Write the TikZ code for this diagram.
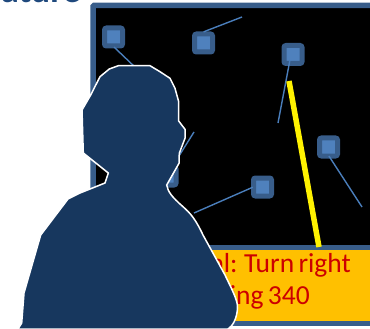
\documentclass[tikz,border=0pt]{standalone}
\usepackage{fontspec}
\setmainfont{Carlito}
\newfontfamily\signalfamily[WordSpace=0.7]{Carlito}
\usetikzlibrary{arrows.meta, positioning, calc}
\definecolor{panelblue}{RGB}{56, 93, 138}
\definecolor{sensorblue}{RGB}{79, 129, 189}
\definecolor{rayblue}{RGB}{74, 126, 187}
\definecolor{personblue}{RGB}{23, 55, 94}
\definecolor{titleblue}{RGB}{31, 73, 125}
\definecolor{amber}{RGB}{255, 192, 0}
\definecolor{alertred}{RGB}{204, 0, 0}
\tikzset{
  screen/.style={rectangle, rounded corners=1pt, draw=panelblue, line width=5.5pt, fill=black, outer sep=0pt,
              minimum width=300pt, minimum height=250pt, anchor=north west},
  signalbar/.style={rectangle, draw=panelblue, line width=5.5pt, fill=amber, outer sep=0pt,
              minimum width=240pt, minimum height=76pt, anchor=north west},
  sensor/.style={rectangle, rounded corners=2pt, draw=panelblue, line width=5pt, fill=sensorblue,
              minimum size=18pt, inner sep=0pt},
  ray/.style={draw=rayblue, line width=1.4pt},
  heading/.style={draw=yellow, line width=5.5pt},
  signaltext/.style={font=\signalfamily\fontsize{27.5}{30}\selectfont, text=alertred, inner sep=0pt, anchor=base east},
}
\begin{document}
\begin{tikzpicture}[x=1pt, y=-1pt]
    \useasboundingbox (0,0) rectangle (370,329);
    % slide title, cut by the top edge
    \node[font=\fontsize{36}{36}\selectfont\bfseries, text=titleblue, inner sep=0pt, anchor=base east] (title) at (81,2.8) {ature};

    \node[screen] (display) at (93,5.5) {};
    \node[signalbar] (bar) at (150,247.5) {};
    \node[signaltext] (line1) at (351,272) {al: Turn right};
    \node[signaltext] (line2) at (310,304) {ing 340};

    \node[sensor] (s1) at (113.5,37) {};
    \node[sensor] (s2) at (203.5,43) {};
    \node[sensor] (s3) at (293,54.5) {};
    \node[sensor] (s4) at (328.5,147) {};
    \node[sensor] (s5) at (262.5,187) {};
    \node[sensor] (s6) at (167,176) {};

    \coordinate (e1) at (160,91);
    \coordinate (e2) at (242,17);
    \coordinate (e3) at (278,123);
    \coordinate (e4) at (362,207);
    \coordinate (e5) at (194,213);
    \coordinate (e6) at (194,132);
    \coordinate (pointer) at (289,81);
    \coordinate (pointerend) at (319,247);

    \draw[ray, shorten <=-2pt] (s1.280) -- (e1);
    \draw[ray, shorten <=-1pt] (s2.85) -- (e2);
    \draw[ray, shorten <=-6pt] (s3.250) -- (e3);
    \draw[ray, shorten <=-3pt] (s4.280) -- (e4);
    \draw[ray, shorten <=-2pt] (s5.185) -- (e5);
    \draw[ray] (s6.60) -- (e6);
    \draw[heading] (pointer) -- (pointerend);

    % person seen from behind
    \draw[white, line width=1.5pt, fill=personblue] (118.3,65.7) -- (150,65.7) -- (160,71.7) -- (170,78.3)
        -- (175,88.3) -- (178.7,101.7) -- (178.7,121) -- (185,129.3) -- (185,138.3)
        -- (179.3,153.3) -- (179,163.3) -- (166.7,185)
        .. controls (168,192) and (172,197) .. (183,206.7)
        .. controls (190,213) and (195,218) .. (203,235)
        -- (225,275)
        .. controls (231,288) and (238,300) .. (237.5,308)
        .. controls (237,318) and (233,326) .. (228,329)
        -- (18,329) -- (21.7,323) -- (24,293) -- (40.7,235) -- (68,199) -- (80,193)
        -- (105,183) -- (108.3,173) -- (83.3,153) -- (82,110) -- (90.7,95)
        -- (100,76.7) -- (109.3,69) -- cycle;
\end{tikzpicture}
\end{document}
